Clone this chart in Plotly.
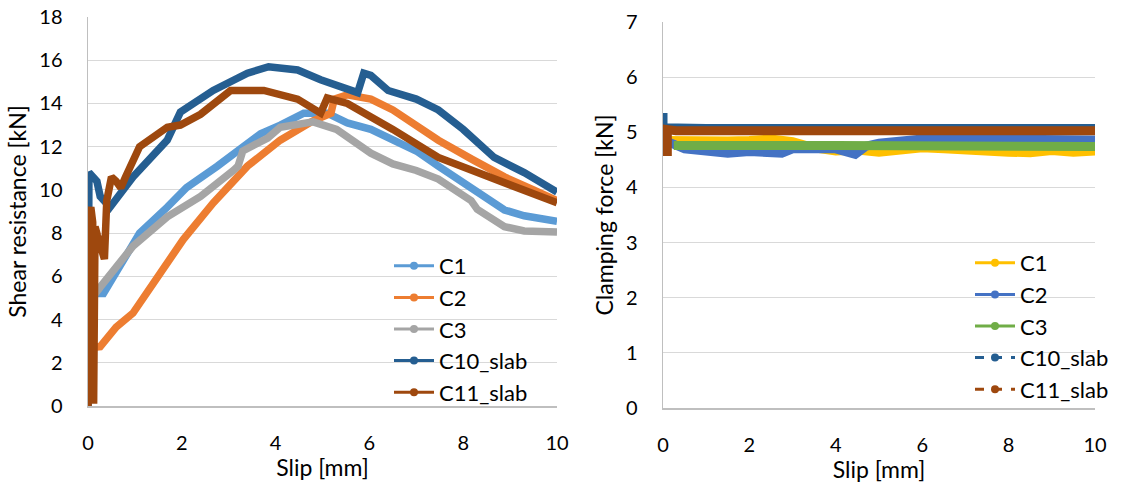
import plotly.graph_objects as go

# ---------------- Data ----------------
series_names = ["C1", "C2", "C3", "C10_slab", "C11_slab"]

# Left chart: Shear resistance [kN] vs Slip [mm]
shear_c1_x = [0, 0, 0.05, 0.1, 0.33, 0.68, 1.1, 1.69, 2.1, 2.76, 3.25, 3.68, 4.1, 4.6, 5.1, 5.53, 6.03, 6.5, 7.0, 7.47, 8.0, 8.5, 8.88, 9.3, 10.0]
shear_c1_y = [0, 3.75, 4.6, 5.2, 5.2, 6.4, 8.0, 9.2, 10.1, 11.1, 11.85, 12.6, 13.0, 13.55, 13.55, 13.1, 12.8, 12.3, 11.8, 11.1, 10.3, 9.6, 9.07, 8.8, 8.55]

shear_c2_x = [0, 0, 0.26, 0.6, 0.96, 1.33, 1.69, 2.03, 2.67, 3.4, 4.1, 4.8, 5.18, 5.25, 5.53, 6.03, 6.5, 7.0, 7.47, 8.2, 8.88, 9.5, 10.0]
shear_c2_y = [0.1, 2.7, 2.75, 3.65, 4.3, 5.5, 6.6, 7.7, 9.4, 11.1, 12.3, 13.2, 13.55, 14.2, 14.4, 14.2, 13.7, 13.0, 12.3, 11.4, 10.6, 10.0, 9.5]

shear_c3_x = [0, 0.03, 0.05, 0.26, 0.96, 1.69, 2.4, 3.1, 3.2, 3.3, 3.83, 4.1, 4.8, 5.3, 5.67, 6.03, 6.5, 7.0, 7.47, 8.17, 8.3, 8.88, 9.3, 10.0]
shear_c3_y = [0, 2.0, 4.9, 5.5, 7.4, 8.75, 9.7, 10.9, 11.1, 11.8, 12.4, 12.9, 13.15, 12.8, 12.2, 11.7, 11.2, 10.9, 10.5, 9.5, 9.1, 8.3, 8.1, 8.05]

shear_c10_x = [0, 0, 0, 0.02, 0.19, 0.26, 0.47, 0.96, 1.69, 1.97, 2.67, 3.4, 3.85, 4.47, 4.96, 5.39, 5.75, 5.88, 6.03, 6.4, 7.0, 7.47, 8.0, 8.66, 9.3, 10.0]
shear_c10_y = [0, 2.45, 1.5, 10.8, 10.4, 9.7, 9.2, 10.6, 12.3, 13.6, 14.6, 15.4, 15.7, 15.55, 15.1, 14.8, 14.5, 15.4, 15.3, 14.6, 14.2, 13.7, 12.8, 11.5, 10.8, 9.9]

shear_c11_x = [0, 0, 0.03, 0.06, 0.1, 0.12, 0.13, 0.15, 0.2, 0.3, 0.35, 0.4, 0.5, 0.6, 0.7, 0.8, 1.1, 1.69, 1.97, 2.4, 3.04, 3.75, 4.47, 4.96, 5.1, 5.53, 6.03, 6.5, 7.47, 8.2, 8.88, 9.5, 10.0]
shear_c11_y = [0, 5.7, 8.8, 9.2, 8.5, 0.1, 4.0, 8.3, 7.9, 7.0, 6.8, 9.5, 10.6, 10.4, 10.1, 10.6, 12.0, 12.9, 13.0, 13.5, 14.6, 14.6, 14.2, 13.55, 14.25, 14.0, 13.4, 12.8, 11.5, 10.9, 10.3, 9.8, 9.4]

# Right chart: Clamping force [kN] vs Slip [mm]
clamp_c1_x = [0.05, 0.5, 1, 1.5, 2, 2.5, 3, 3.5, 4, 4.5, 5, 5.5, 6, 6.5, 7, 7.5, 8, 8.5, 9, 9.5, 10]
clamp_c1_y = [4.85, 4.84, 4.83, 4.84, 4.85, 4.88, 4.83, 4.72, 4.66, 4.68, 4.64, 4.67, 4.72, 4.7, 4.67, 4.65, 4.64, 4.63, 4.67, 4.64, 4.66]

clamp_c2_x = [0, 0.05, 0.5, 1, 1.5, 2, 2.5, 2.75, 3, 3.5, 4, 4.45, 4.7, 5, 5.5, 6, 7, 8, 9, 10]
clamp_c2_y = [5.0, 4.85, 4.7, 4.66, 4.62, 4.65, 4.63, 4.62, 4.7, 4.72, 4.7, 4.6, 4.75, 4.8, 4.83, 4.88, 4.88, 4.87, 4.87, 4.86]

clamp_c3_x = [0.25, 1, 2, 3, 4, 5, 6, 7, 8, 9, 10]
clamp_c3_y = [4.76, 4.75, 4.75, 4.76, 4.76, 4.75, 4.77, 4.76, 4.75, 4.75, 4.74]

clamp_c10_x = [0, 0, 0.05, 1, 2, 3, 4, 5, 6, 7, 8, 9, 10]
clamp_c10_y = [5.35, 5.05, 5.08, 5.07, 5.07, 5.08, 5.08, 5.08, 5.1, 5.08, 5.08, 5.08, 5.07]

clamp_c11_x = [0.1, 0.1, 0.3, 2, 4, 6, 8, 10]
clamp_c11_y = [4.57, 5.05, 5.03, 5.03, 5.04, 5.03, 5.03, 5.03]

x_ticks = [0, 2, 4, 6, 8, 10]
shear_ticks = [0, 2, 4, 6, 8, 10, 12, 14, 16, 18]
clamp_ticks = [0, 1, 2, 3, 4, 5, 6, 7]

left_colors = ["#5b9bd5", "#ed7d31", "#a5a5a5", "#255e91", "#9e480e"]
right_colors = ["#ffc000", "#4472c4", "#70ad47", "#255e91", "#9e480e"]
right_dash = ["solid", "solid", "solid", "dash", "dash"]

# ---------------- Figure ----------------
FONT = "Lato"
W, H = 1137, 484
TICK = 20
TITLE = 23
LEG = 22
fig = go.Figure()

left_data = [(shear_c1_x, shear_c1_y), (shear_c2_x, shear_c2_y), (shear_c3_x, shear_c3_y),
             (shear_c10_x, shear_c10_y), (shear_c11_x, shear_c11_y)]
right_data = [(clamp_c1_x, clamp_c1_y), (clamp_c2_x, clamp_c2_y), (clamp_c3_x, clamp_c3_y),
              (clamp_c10_x, clamp_c10_y), (clamp_c11_x, clamp_c11_y)]

for name, (xs, ys), col in zip(series_names, left_data, left_colors):
    fig.add_trace(go.Scatter(x=xs, y=ys, mode="lines", xaxis="x", yaxis="y",
                             line=dict(color=col, width=7.5),
                             showlegend=False, hoverinfo="skip"))
for name, (xs, ys), col in zip(series_names, right_data, right_colors):
    fig.add_trace(go.Scatter(x=xs, y=ys, mode="lines", xaxis="x2", yaxis="y2",
                             line=dict(color=col, width=9),
                             showlegend=False, hoverinfo="skip"))

# legend entries (thin line + marker like the reference legend)
for i, (name, col) in enumerate(zip(series_names, left_colors)):
    fig.add_trace(go.Scatter(x=[None], y=[None], mode="lines+markers", name=name,
                             xaxis="x", yaxis="y", legend="legend", legendgroup="L%d" % i,
                             line=dict(color=col, width=3), marker=dict(color=col, size=8)))
for i, (name, col, dsh) in enumerate(zip(series_names, right_colors, right_dash)):
    fig.add_trace(go.Scatter(x=[None], y=[None], mode="lines+markers", name=name,
                             xaxis="x2", yaxis="y2", legend="legend2", legendgroup="R%d" % i,
                             line=dict(color=col, width=3, dash=dsh), marker=dict(color=col, size=8)))


def yax(**kw):
    d = dict(showgrid=True, gridcolor="#d9d9d9", gridwidth=1, zeroline=False,
             showline=True, linecolor="#bfbfbf", linewidth=1.5, ticks="",
             ticklabelstandoff=20, automargin=False,
             tickfont=dict(family=FONT, size=TICK, color="#000000"))
    d.update(kw)
    return d


def xax(**kw):
    d = dict(showgrid=False, zeroline=False,
             showline=True, linecolor="#bfbfbf", linewidth=1.5, ticks="",
             ticklabelstandoff=18, automargin=False,
             tickfont=dict(family=FONT, size=TICK, color="#000000"))
    d.update(kw)
    return d


fig.update_layout(
    width=W, height=H,
    margin=dict(l=0, r=0, t=0, b=0),
    paper_bgcolor="white", plot_bgcolor="white",
    font=dict(family=FONT, color="#000000"),
    xaxis=xax(domain=[88 / W, 557 / W], range=[0, 10], tickvals=x_ticks, anchor="y",
              title=dict(text="Slip [mm]", font=dict(family=FONT, size=TITLE), standoff=4)),
    yaxis=yax(domain=[(H - 406) / H, (H - 17) / H], range=[0, 18], tickvals=shear_ticks, anchor="x",
              title=dict(text="Shear resistance [kN]", font=dict(family=FONT, size=TITLE), standoff=6)),
    xaxis2=xax(domain=[663 / W, 1095 / W], range=[0, 10], tickvals=x_ticks, anchor="y2",
               title=dict(text="Slip [mm]", font=dict(family=FONT, size=TITLE), standoff=4)),
    yaxis2=yax(domain=[(H - 408) / H, (H - 22) / H], range=[0, 7], tickvals=clamp_ticks, anchor="x2",
               title=dict(text="Clamping force [kN]", font=dict(family=FONT, size=TITLE), standoff=6)),
    legend=dict(x=389 / W, y=(H - 245) / H, xanchor="left", yanchor="top",
                bgcolor="rgba(0,0,0,0)", font=dict(family=FONT, size=LEG),
                tracegroupgap=3, traceorder="normal", itemwidth=40),
    legend2=dict(x=970 / W, y=(H - 242) / H, xanchor="left", yanchor="top",
                 bgcolor="rgba(0,0,0,0)", font=dict(family=FONT, size=LEG),
                 tracegroupgap=3, traceorder="normal", itemwidth=40),
)

fig.write_html("out.html", config={"displayModeBar": False, "staticPlot": True},
               post_script="document.body.style.margin='0';document.body.style.overflow='hidden';")
